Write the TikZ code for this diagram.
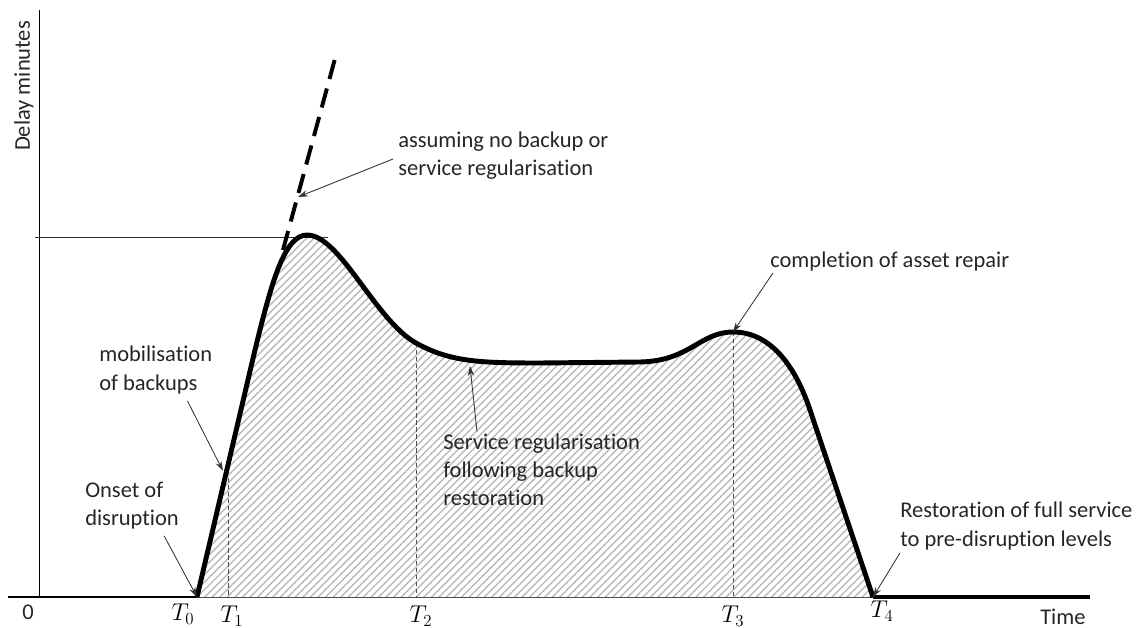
\documentclass[tikz,border=0pt]{standalone}
\usepackage{fontspec}
\setmainfont{Carlito}[Ligatures=NoCommon]
\usetikzlibrary{calc, arrows.meta, patterns.meta, positioning}

\tikzset{
    lbl/.style={align=left, anchor=west, inner sep=0pt, text=black!85, font=\fontsize{16}{20}\selectfont},
    tick/.style={inner sep=0pt, font=\fontsize{16.5}{19}\selectfont},
    note/.style={-{Stealth[length=7pt, width=4.5pt]}, line width=0.6pt, black!80},
    guide/.style={dash pattern=on 3pt off 2pt, line width=0.5pt, black!70},
    curve/.style={line width=3.5pt, line join=round},
}

% the delay curve, from T0 to T4
\newcommand{\delaycurve}{(t0) -- (bend) .. controls (272,280) and (285,235) .. (peak)
    .. controls (340,235) and (375,320) .. (t2)
    .. controls (450,362) and (480,363) .. (flat1) -- (flat2)
    .. controls (690,361) and (700,332) .. (t3)
    .. controls (770,332) and (795,365) .. (drop) -- (t4)}

\begin{document}
\begin{tikzpicture}[x=0.025cm, y=-0.025cm]
    \useasboundingbox (0,0) rectangle (1145,628);

    \coordinate (t0) at (197,597);
    \coordinate (t1) at (228,464);
    \coordinate (bend) at (255,350);
    \coordinate (peak) at (307,235);
    \coordinate (t2) at (416,343);
    \coordinate (flat1) at (540,363);
    \coordinate (flat2) at (640,362);
    \coordinate (t3) at (733,332);
    \coordinate (drop) at (810,410);
    \coordinate (t4) at (873,597);
    \coordinate (tend) at (1090,597);

%\fill[gray!20] \delaycurve -- cycle;
    \fill[pattern={Lines[angle=45, distance=3.8pt, line width=1pt]}, pattern color=gray!55] \delaycurve -- cycle;

    % axes
    \coordinate (origin) at (39,597);
    \coordinate (ytop) at (39,10);
    \coordinate (xleft) at (8,597);
    \draw[line width=0.7pt] (origin) -- (ytop);
    \draw[line width=0.6pt, black!70] (xleft) -- (t4);
    \draw[line width=1.3pt] (xleft) -- (t0);
    \draw[line width=0.6pt, black!80] (35,237) coordinate (hl) -- (328,237) coordinate (hr);

    % time markers
    \draw[guide] (228,478) -- (228,597);
    \draw[guide] (t2) -- (416,597);
    \draw[guide] (t3) -- (733,597);

    \draw[curve] \delaycurve;
    \draw[curve] (t4) -- (tend);
    \draw[line width=2.8pt, dash pattern=on 14pt off 7pt] (283,250) coordinate (nb0) -- (336,55) coordinate (nb1);

    % labels
    \node[rotate=90, inner sep=0pt, font=\fontsize{16}{20}\selectfont, text=black!85] (ylab) at (24,86) {Delay minutes};
    \node[lbl] (zero) at (22,612) {0};
    \node[tick] (lt0) at (183,614) {$T_0$};
    \node[tick] (lt1) at (232,616) {$T_1$};
    \node[tick] (lt2) at (421,616) {$T_2$};
    \node[tick] (lt3) at (733,616) {$T_3$};
    \node[tick] (lt4) at (882,611) {$T_4$};
    \node[lbl] (time) at (1040,617) {Time};

    \node[lbl] (assume) at (398,156) {assuming no backup or\\service regularisation};
    \node[lbl] (repair) at (770,262) {completion of asset repair};
    \node[lbl] (mobil) at (99,370) {mobilisation\\of backups};
    \node[lbl] (onset) at (85,506) {Onset of\\disruption};
    \node[lbl] (regul) at (443,470) {Service regularisation\\following backup\\restoration};
    \node[lbl] (restore) at (900,526) {Restoration of full service\\to pre-disruption levels};

    \coordinate (nbtip) at (298,197);
    \coordinate (mobtip) at (223,471);
    \coordinate (regtip) at (470,366);

    \draw[note] ($(assume.west) + (-5,3)$) -- (nbtip);
    \draw[note] ($(repair.south west) + (3,1)$) -- (t3);
    \draw[note] ($(mobil.south east) + (-25,7)$) -- (mobtip);
    \draw[note] ($(onset.south east) + (-15,6)$) -- (t0);
    \draw[note] ($(regul.north west) + (34,-2)$) -- (regtip);
    \draw[note] ($(restore.south west) + (0,3)$) -- (t4);

\end{tikzpicture}
\end{document}
